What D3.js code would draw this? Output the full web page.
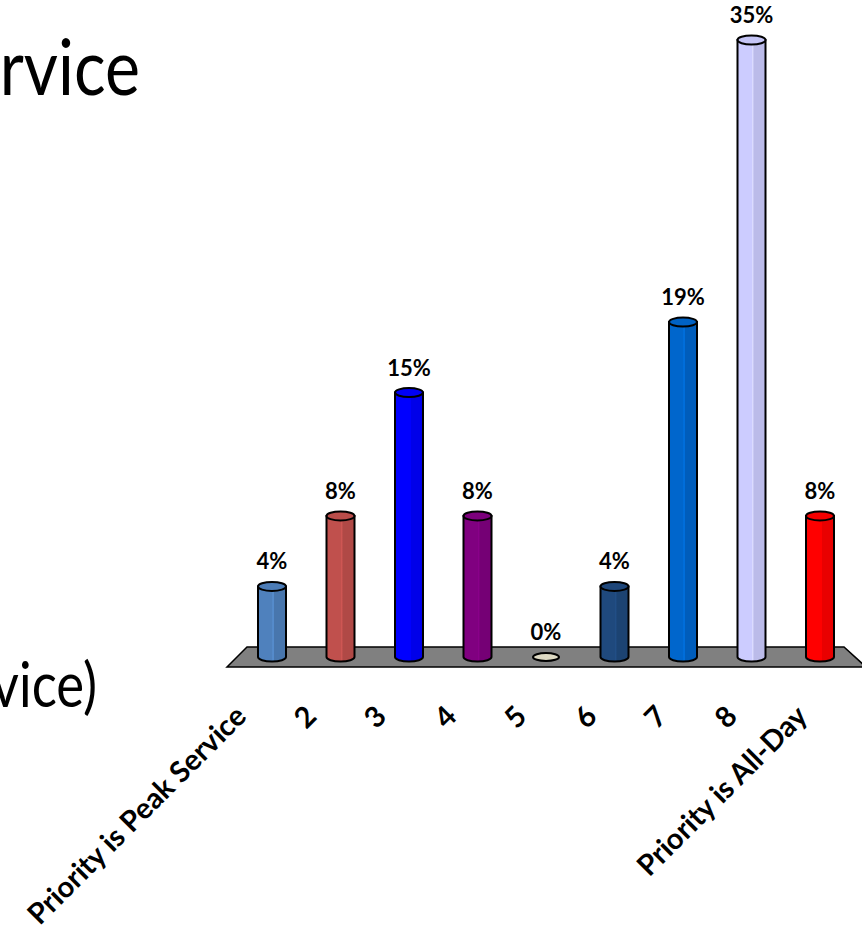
<!DOCTYPE html>
<html>
<head>
<meta charset="utf-8">
<script src="https://cdn.jsdelivr.net/npm/d3@7"></script>
<style>
  body { margin: 0; background: #fff; }
  svg { display: block; }
</style>
</head>
<body>
<svg id="chart" width="862" height="929"></svg>
<script>
// chart data
const categories = ["Priority is Peak Service", "2", "3", "4", "5", "6", "7", "8", "Priority is All-Day"];
const values = [4, 8, 15, 8, 0, 4, 19, 35, 8];
const barColors = ["#4f81bd", "#c0504d", "#0000ff", "#800080", "#ddd9c3", "#1f497d", "#0066cc", "#ccccff", "#ff0000"];

const width = 862;
const height = 929;
const barW = 28;
const ry = 4.5;

const svg = d3.select("#chart");

// partial slide text cut off at the left edge
svg.append("text")
  .attr("transform", "translate(140,95) scale(0.85,1)")
  .attr("text-anchor", "end")
  .attr("font-family", "Lato, sans-serif")
  .attr("font-size", 78)
  .text("rvice");

svg.append("text")
  .attr("transform", "translate(97,707) scale(0.85,1)")
  .attr("text-anchor", "end")
  .attr("font-family", "Lato, sans-serif")
  .attr("font-size", 62)
  .text("vice)");

const x = d3.scalePoint()
  .domain(categories)
  .range([272, 820]);

// label ticks sit on the front edge of the floor, a bit wider apart
const xLab = d3.scalePoint()
  .domain(categories)
  .range([248, 809]);

const y = d3.scaleLinear()
  .domain([0, 35])
  .range([657, 40]);

// gradients for the cylinder shading
const defs = svg.append("defs");
barColors.forEach((c, i) => {
  const g = defs.append("linearGradient")
    .attr("id", "grad" + i)
    .attr("x1", "0%").attr("x2", "100%")
    .attr("y1", "0%").attr("y2", "0%");
  const base = d3.color(c);
  const light = base.brighter(0.2).formatHex();
  const dark = base.darker(0.25).formatHex();
  g.append("stop").attr("offset", "0%").attr("stop-color", c);
  g.append("stop").attr("offset", "50%").attr("stop-color", c);
  g.append("stop").attr("offset", "52%").attr("stop-color", light);
  g.append("stop").attr("offset", "56%").attr("stop-color", light);
  g.append("stop").attr("offset", "58%").attr("stop-color", dark);
  g.append("stop").attr("offset", "100%").attr("stop-color", dark);
});

// floor
const [r0, r1] = x.range();
const floorTop = y(0) - 10;
const floorBot = y(0) + 10;
svg.append("path")
  .attr("d", `M${r0 - 25},${floorTop} L${r1 + 24},${floorTop} L${r1 + 46},${floorBot} L${r0 - 45},${floorBot} Z`)
  .attr("fill", "#808080")
  .attr("stroke", "#000")
  .attr("stroke-width", 1.5);

// cylinders
const bars = svg.selectAll("g.bar")
  .data(values)
  .enter()
  .append("g")
  .attr("class", "bar");

bars.each(function (v, i) {
  const g = d3.select(this);
  const cx = x(categories[i]);
  const x0 = cx - barW / 2;
  const x1 = cx + barW / 2;
  const yTop = y(v);
  const yBase = y(0);
  if (v === 0) {
    g.append("ellipse")
      .attr("cx", cx).attr("cy", yBase)
      .attr("rx", barW / 2 - 1).attr("ry", ry - 0.5)
      .attr("fill", barColors[i])
      .attr("stroke", "#000")
      .attr("stroke-width", 2);
    return;
  }
  g.append("path")
    .attr("d", `M${x0},${yTop} L${x0},${yBase} A${barW / 2},${ry} 0 0 0 ${x1},${yBase} L${x1},${yTop} Z`)
    .attr("fill", `url(#grad${i})`)
    .attr("stroke", "#000")
    .attr("stroke-width", 2);
  g.append("ellipse")
    .attr("cx", cx).attr("cy", yTop)
    .attr("rx", barW / 2).attr("ry", ry)
    .attr("fill", d3.color(barColors[i]).darker(0.1))
    .attr("stroke", "#000")
    .attr("stroke-width", 2);
});

// value labels
svg.selectAll("text.val")
  .data(values)
  .enter()
  .append("text")
  .attr("class", "val")
  .attr("x", (d, i) => x(categories[i]))
  .attr("y", d => y(d) - 17)
  .attr("text-anchor", "middle")
  .attr("font-family", "Lato, sans-serif")
  .attr("font-weight", "bold")
  .attr("font-size", 22)
  .text(d => d + "%");

// category labels, rotated
svg.selectAll("text.cat")
  .data(categories)
  .enter()
  .append("text")
  .attr("class", "cat")
  .attr("text-anchor", "end")
  .attr("transform", d => `translate(${xLab(d)},718) rotate(-45)`)
  .attr("font-family", "Lato, sans-serif")
  .attr("font-weight", "bold")
  .attr("font-size", 29)
  .text(d => d);
</script>
</body>
</html>
